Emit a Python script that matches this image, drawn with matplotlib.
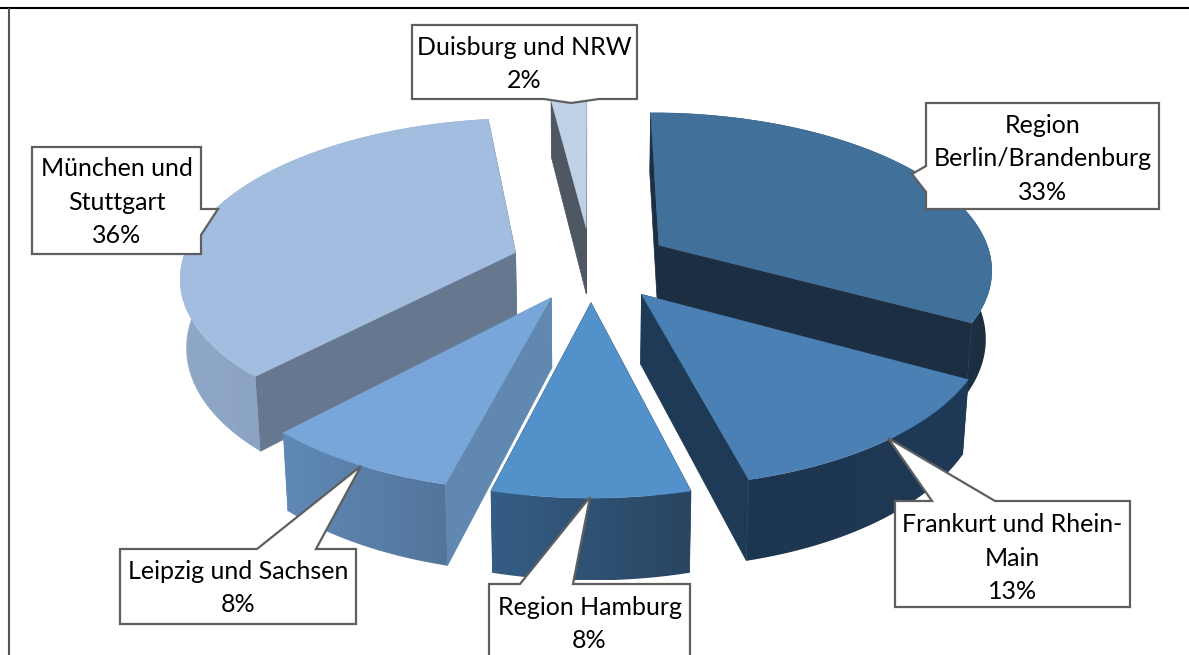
import numpy as np
import matplotlib
matplotlib.use('Agg')
import matplotlib.pyplot as plt
from matplotlib.patches import Polygon
from matplotlib.colors import to_rgb

# Data
regions = ['Region\nBerlin/Brandenburg', 'Frankurt und Rhein-\nMain', 'Region Hamburg',
           'Leipzig und Sachsen', 'München und\nStuttgart', 'Duisburg und NRW']
shares = [33, 13, 8, 8, 36, 2]

# Colours per slice
top_colors = ['#41709b', '#4b80b5', '#5391ca', '#79a6d8', '#a2bde0', '#bfd1e6']
cut_colors = ['#1c2e41', '#1f3a56', '#2a4663', '#6088b0', '#66788f', '#4f5762']
wall_left = ['#1c2e41', '#1d3650', '#355e85', '#6089b6', '#90a8c8', '#4f5762']
wall_right = ['#1c2e41', '#1f3a56', '#294561', '#53759b', '#8096b4', '#4f5762']
draw_order = [5, 4, 0, 3, 1, 2]

# Projection of the pie plane to pixels
cx, cy = 591, 264
A, B = 334, 156
k = 0.14
depth = 68
shrink = 0.985  # bottom rim looks narrower than the top rim
explode = 0.24


def project(x, y, down=False):
    w = 1 - k * y
    if down:
        return cx + shrink * A * x / w, cy + B * y / w + depth / w
    return cx + A * x / w, cy + B * y / w


fig = plt.figure(figsize=(11.89, 6.55), dpi=100)
ax = fig.add_axes([0, 0, 1, 1])
ax.axis('off')

edges = np.cumsum([0] + shares) / sum(shares) * 2 * np.pi
z = 1

for i in draw_order:
    t0, t1 = edges[i], edges[i + 1]
    mid = (t0 + t1) / 2
    ex, ey = explode * np.sin(mid), -explode * np.cos(mid)
    theta = np.linspace(t0, t1, 120)
    rx = ex + np.sin(theta)
    ry = ey - np.cos(theta)

    # cut faces
    for t in (t0, t1):
        px, py = ex + np.sin(t), ey - np.cos(t)
        quad = [project(ex, ey), project(px, py), project(px, py, True), project(ex, ey, True)]
        ax.add_patch(Polygon(quad, closed=True, fc=cut_colors[i], ec=cut_colors[i], lw=0.5, zorder=z))

    # outer wall with a left to right shade, clipped to the rim band
    upper = [project(a, b) for a, b in zip(rx, ry)]
    lower = [project(a, b, True) for a, b in zip(rx, ry)]
    band = Polygon(upper + lower[::-1], closed=True, fc='none', ec='none', transform=ax.transData)
    ax.add_patch(band)
    xs = np.array([p[0] for p in upper + lower])
    ys = np.array([p[1] for p in upper + lower])
    shade = np.linspace(0, 1, 256)[None, :, None]
    grad = np.array(to_rgb(wall_left[i]))[None, None, :] * (1 - shade) + np.array(to_rgb(wall_right[i]))[None, None, :] * shade
    im = ax.imshow(grad, extent=(xs.min(), xs.max(), ys.max(), ys.min()), aspect='auto', zorder=z, interpolation='bilinear')
    im.set_clip_path(band)

    # top face
    pts = [project(ex, ey)] + upper
    ax.add_patch(Polygon(pts, closed=True, fc=top_colors[i], ec=top_colors[i], lw=0.3, zorder=z))
    z += 1

ax.set_xlim(0, 1189)
ax.set_ylim(655, 0)

# Callouts: slice, box left/top/right/bottom, pointer points, side, text centre
callouts = [
    (0, (926, 103, 1159, 209), [(926, 192), (912, 174), (926, 166)], 'left', 159),
    (1, (895, 501, 1130, 607), [(932, 501), (888, 438), (995, 501)], 'top', 558),
    (2, (489, 584, 690, 670), [(520, 584), (590, 497), (573, 584)], 'top', 624),
    (3, (120, 549, 356, 624), [(257, 549), (361, 466), (316, 549)], 'top', 588),
    (4, (32, 147, 201, 254), [(201, 209), (218, 209), (201, 235)], 'right', 202),
    (5, (412, 25, 637, 99), [(599, 99), (571, 103), (544, 99)], 'bottom', 64),
]
for i, (l, t, r, b), ptr, side, ymid in callouts:
    if side == 'top':
        pts = [(l, t)] + ptr + [(r, t), (r, b), (l, b)]
    elif side == 'right':
        pts = [(l, t), (r, t)] + ptr + [(r, b), (l, b)]
    elif side == 'bottom':
        pts = [(l, t), (r, t), (r, b)] + ptr + [(l, b)]
    else:
        pts = [(l, t), (r, t), (r, b), (l, b)] + ptr
    ax.add_patch(Polygon(pts, closed=True, fc='white', ec='#5f5f5f', lw=1.6, zorder=20))
    ax.text((l + r) / 2, ymid, f'{regions[i]}\n{shares[i]}%', ha='center', va='center',
            family='Lato', fontsize=18, linespacing=1.55, color='black', zorder=21)

# Frame of the chart area
ax.plot([0, 1189], [8, 8], color='black', lw=1.5, zorder=22, solid_capstyle='butt')
ax.plot([9, 9], [8, 655], color='#555555', lw=1.5, zorder=22, solid_capstyle='butt')

fig.savefig('out.png', dpi=100)
